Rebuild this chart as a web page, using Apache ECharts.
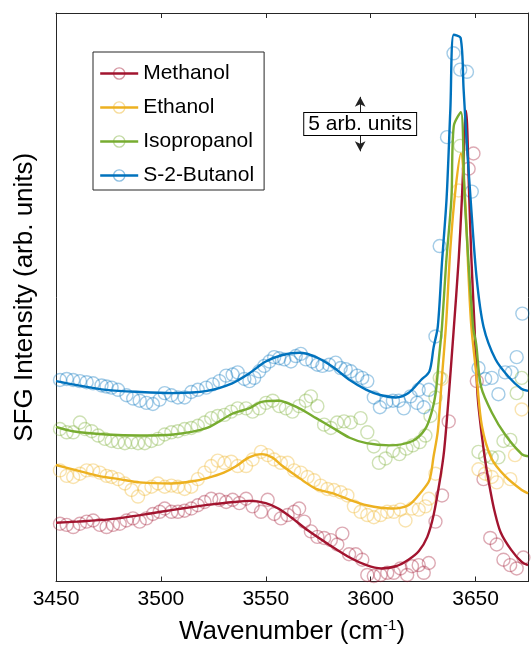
<!DOCTYPE html>
<html>
<head>
<meta charset="utf-8">
<script src="https://cdn.jsdelivr.net/npm/echarts@6/dist/echarts.min.js"></script>
<style>
html,body{margin:0;padding:0;background:#fff;}
#chart{width:531px;height:650px;}
</style>
</head>
<body>
<div id="chart"></div>
<script>
// ---------- data ----------
var seriesNames = ['Methanol', 'Ethanol', 'Isopropanol', 'S-2-Butanol'];
var xTicks = [3450, 3500, 3550, 3600, 3650];

// fitted curves [wavenumber, intensity (arb. units)]
var methanolFit = [[3450,5.4],[3460,5.5],[3475,5.7],[3490,6.1],[3500,6.4],[3510,6.7],[3525,7.1],[3535,7.3],[3542,7.4],[3550,7.2],[3556,6.7],[3562,5.9],[3570,4.7],[3580,3.4],[3590,2.2],[3598,1.5],[3605,1.2],[3612,1.4],[3618,2.0],[3623,2.8],[3627,4.1],[3630,6.1],[3633,9.3],[3635,12.0],[3637,16.5],[3639.5,22.9],[3642,29.7],[3643.5,35.2],[3645.5,43.2],[3647,35.2],[3648,29.7],[3649.5,23.4],[3651,17.0],[3653,13.4],[3655,10.6],[3657,8.4],[3659,6.5],[3662,4.5],[3667,2.9],[3672,1.8],[3675,1.5]];
var ethanolFit = [[3450,10.7],[3460,10.2],[3470,9.7],[3480,9.4],[3490,9.1],[3505,9.0],[3515,9.2],[3522,9.5],[3530,10.0],[3536,10.6],[3542,11.4],[3548,11.7],[3553,11.4],[3558,10.6],[3566,9.5],[3574,8.5],[3582,8.1],[3590,7.5],[3598,7.0],[3610,6.7],[3618,7.0],[3624,8.2],[3628,9.3],[3630,11.5],[3632,13.8],[3634,18.8],[3636,23.8],[3638,30.6],[3640.5,36.1],[3643,39.3],[3645,35.2],[3646.7,27.9],[3648,23.4],[3650.5,18.8],[3653,14.3],[3657.6,11.3],[3664,9.7],[3672,8.4],[3675,8.1]];
var isopropanolFit = [[3450,14.2],[3458,13.8],[3474,13.5],[3490,13.4],[3506,13.5],[3522,14.1],[3534,15.4],[3542,15.9],[3548,16.5],[3556,16.6],[3566,15.9],[3574,15.0],[3582,14.1],[3590,13.2],[3598,12.7],[3609,12.5],[3620,12.9],[3626,14.0],[3629,15.5],[3631,17.3],[3632.5,20.4],[3634,23.4],[3636,29.3],[3638.5,35.2],[3639.6,41.8],[3643,43.1],[3644.8,35.2],[3648.8,23.4],[3650.3,21.8],[3652.6,17.9],[3657.8,15.5],[3664.4,13.4],[3672,11.7],[3675,11.5]];
var butanolFit = [[3450,18.4],[3458,18.1],[3474,17.6],[3490,17.4],[3506,17.3],[3522,17.5],[3534,18.2],[3542,19.1],[3550,20.2],[3558,20.8],[3566,21.0],[3574,20.6],[3582,19.7],[3590,18.5],[3598,17.6],[3605,17.1],[3612,16.9],[3618,17.3],[3624,18.5],[3628,19.3],[3630,21.5],[3632,23.4],[3634,29.3],[3636.2,35.2],[3638,43.4],[3639.6,50.2],[3642.9,49.9],[3644.3,45.2],[3645.7,40.6],[3647.6,35.2],[3650.5,27.9],[3653.8,23.4],[3659.5,20.4],[3665.7,18.8],[3671.8,17.7],[3675,17.5]];

// measured points [wavenumber, intensity (arb. units)]
var methanolPts = [[3451.9,5.3],[3455.1,5.2],[3458.2,5.0],[3461.4,5.3],[3464.6,5.5],[3467.7,5.6],[3470.9,5.2],[3474.1,5.0],[3477.2,5.2],[3480.4,5.3],[3483.6,5.6],[3486.7,5.8],[3489.9,5.5],[3493.1,5.8],[3496.2,6.2],[3499.4,6.4],[3501.8,6.7],[3505.0,6.4],[3508.1,6.4],[3511.3,6.5],[3514.5,6.7],[3517.6,7.0],[3520.8,7.3],[3524.0,7.6],[3527.9,7.5],[3531.1,7.3],[3534.2,7.5],[3537.4,7.2],[3540.6,7.6],[3543.7,6.9],[3547.7,6.4],[3550.9,7.5],[3554.0,6.2],[3557.2,5.8],[3560.4,6.1],[3563.5,6.4],[3565.9,6.7],[3568.3,5.5],[3571.5,4.6],[3574.6,4.1],[3577.8,4.0],[3581.0,3.8],[3584.1,3.4],[3586.5,4.4],[3589.7,2.5],[3592.9,2.5],[3596.0,2.0],[3598.4,0.6],[3601.5,0.5],[3604.7,0.6],[3607.9,0.8],[3611.0,0.8],[3614.2,1.2],[3617.4,0.6],[3619.7,1.4],[3622.9,1.5],[3625.3,0.8],[3627.7,1.7],[3630.9,5.5],[3634.0,7.9],[3637.2,14.7],[3646.7,37.9],[3649.0,39.3],[3650.6,18.4],[3653.8,9.4],[3657.0,4.0],[3660.1,3.4],[3663.3,2.0],[3666.5,1.5],[3669.6,1.2],[3672.8,2.2]];
var ethanolPts = [[3451.9,10.2],[3455.1,9.7],[3458.2,9.6],[3461.4,9.9],[3464.6,10.2],[3467.7,10.2],[3470.9,10.0],[3474.1,9.7],[3476.5,9.6],[3479.6,9.4],[3482.8,9.0],[3486.0,8.4],[3489.1,7.8],[3492.3,8.5],[3495.5,8.7],[3498.6,9.0],[3501.8,8.7],[3505.0,8.8],[3508.1,8.7],[3511.3,8.5],[3514.5,8.7],[3517.6,9.4],[3520.8,10.0],[3524.0,10.6],[3527.1,11.1],[3530.3,10.9],[3533.5,11.0],[3536.6,10.6],[3540.6,10.6],[3543.7,11.2],[3547.7,11.9],[3550.9,11.6],[3554.0,11.2],[3557.2,10.9],[3560.4,10.9],[3563.5,10.2],[3566.7,10.0],[3569.9,9.6],[3573.0,9.3],[3576.2,8.8],[3579.4,8.5],[3582.5,8.4],[3585.7,8.2],[3588.9,7.9],[3592.0,6.9],[3595.2,6.4],[3598.4,6.1],[3601.5,5.9],[3604.7,6.1],[3607.9,6.4],[3611.0,6.4],[3614.2,6.6],[3616.6,5.6],[3619.7,6.7],[3622.9,6.6],[3626.1,6.9],[3627.7,7.6],[3630.9,9.9],[3633.9,18.6],[3641.9,35.9],[3651.4,10.3],[3654.6,9.9],[3657.7,9.6],[3660.1,9.1],[3666.6,9.4],[3668.8,11.6],[3672.0,15.8]];
var isopropanolPts = [[3451.9,14.0],[3455.1,13.7],[3458.2,13.7],[3461.4,14.6],[3463.8,14.0],[3467.0,13.8],[3470.1,13.4],[3473.3,13.1],[3476.5,12.9],[3479.6,12.8],[3482.8,12.7],[3486.0,12.8],[3489.1,12.7],[3492.3,12.7],[3495.5,12.9],[3498.6,13.1],[3501.8,13.5],[3505.0,13.7],[3508.1,13.8],[3511.3,14.0],[3514.5,14.1],[3517.6,14.3],[3520.8,14.6],[3524.0,15.0],[3527.1,15.2],[3530.3,15.3],[3533.5,15.6],[3536.6,15.9],[3540.6,15.9],[3543.7,15.6],[3546.9,15.9],[3550.1,16.4],[3553.3,16.6],[3556.4,16.1],[3559.6,15.9],[3562.7,15.6],[3565.9,16.1],[3569.1,16.6],[3571.5,17.0],[3574.6,16.1],[3577.8,14.4],[3581.0,14.1],[3584.0,14.6],[3587.3,14.7],[3590.5,14.6],[3595.2,15.0],[3598.4,13.7],[3601.5,12.4],[3603.9,10.9],[3607.1,11.3],[3610.6,12.0],[3613.7,11.7],[3617.0,12.2],[3620.1,12.5],[3623.4,12.8],[3626.1,13.4],[3628.5,15.2],[3630.9,16.9],[3632.9,18.7],[3642.7,40.0],[3651.4,11.9],[3654.6,11.5],[3657.7,11.4],[3660.9,11.4],[3663.3,12.9],[3666.6,13.0],[3669.6,17.3],[3672.0,18.7]];
var butanolPts = [[3451.9,18.5],[3455.1,18.6],[3458.2,18.5],[3461.4,18.4],[3464.6,18.3],[3467.7,18.2],[3471.7,18.0],[3474.1,17.9],[3476.5,17.8],[3479.6,17.6],[3483.6,17.1],[3486.8,16.8],[3489.9,16.6],[3493.1,16.4],[3496.2,16.3],[3499.4,16.7],[3501.8,17.3],[3505.0,17.1],[3508.1,16.9],[3511.3,16.9],[3514.5,17.4],[3517.6,17.6],[3521.6,17.8],[3524.7,18.1],[3527.9,18.4],[3531.1,18.9],[3534.2,19.0],[3536.6,19.2],[3539.8,18.6],[3542.2,18.4],[3544.5,18.7],[3546.9,19.3],[3549.3,19.8],[3551.7,20.2],[3554.0,20.6],[3556.4,20.5],[3558.8,20.4],[3562.0,20.2],[3564.3,20.7],[3566.7,20.9],[3569.1,20.4],[3572.2,20.2],[3574.6,19.9],[3577.0,19.8],[3580.2,19.9],[3583.3,20.1],[3585.7,19.6],[3588.1,19.5],[3590.5,19.3],[3593.6,18.9],[3596.0,18.7],[3598.4,18.4],[3601.5,16.9],[3604.4,16.0],[3607.5,16.5],[3610.6,16.6],[3613.4,16.6],[3615.8,15.9],[3619.0,17.0],[3622.1,16.4],[3622.9,17.6],[3625.3,16.0],[3627.7,17.6],[3630.9,22.5],[3632.9,30.8],[3636.4,40.8],[3639.5,48.5],[3642.7,47.0],[3645.9,46.8],[3648.2,35.8],[3651.4,19.6],[3654.6,18.6],[3657.7,18.7],[3660.9,17.2],[3664.1,19.2],[3667.2,19.2],[3669.6,20.6],[3672.3,24.6]];

// scale-bar annotation
var scaleBarLabel = '5 arb. units';
var scaleBarWn = 3595;
var scaleBarFrom = 39.5;
var scaleBarLength = 5;

// ---------- styling ----------
var lineColors = ['#A2142F', '#EDB120', '#77AC30', '#0072BD'];
var pointColors = ['rgba(162,20,47,0.45)', 'rgba(237,177,32,0.45)', 'rgba(119,172,48,0.45)', 'rgba(0,114,189,0.45)'];
var fits = [methanolFit, ethanolFit, isopropanolFit, butanolFit];
var pts = [methanolPts, ethanolPts, isopropanolPts, butanolPts];
var FONT = '"Liberation Sans", Arial, Helvetica, sans-serif';
var AX = '#262626';

var series = [];
for (var i = 0; i < 4; i++) {
  series.push({
    name: seriesNames[i] + ' data',
    type: 'scatter',
    data: pts[i],
    symbol: 'circle',
    symbolSize: 13,
    itemStyle: { color: 'rgba(255,255,255,0)', borderColor: pointColors[i], borderWidth: 1.4 },
    z: 2,
    silent: true
  });
}
for (var j = 0; j < 4; j++) {
  series.push({
    name: seriesNames[j],
    type: 'line',
    data: fits[j],
    smooth: 0.3,
    showSymbol: false,
    symbol: 'circle',
    symbolSize: 13,
    lineStyle: { color: lineColors[j], width: 2.4 },
    itemStyle: { color: 'rgba(255,255,255,0)', borderColor: pointColors[j], borderWidth: 1.4 },
    z: 5,
    silent: true
  });
}
// scale bar (arrow + labelled box)
series.push({
  name: 'scalebar',
  type: 'line',
  data: [],
  silent: true,
  markLine: {
    silent: true,
    symbol: ['arrow', 'arrow'],
    symbolSize: [8, 10],
    label: { show: false },
    lineStyle: { color: '#222', width: 1, type: 'solid' },
    data: [[{ coord: [scaleBarWn, scaleBarFrom] }, { coord: [scaleBarWn, scaleBarFrom + scaleBarLength] }]]
  },
  markPoint: {
    silent: true,
    symbol: 'rect',
    symbolSize: 1,
    itemStyle: { color: 'rgba(0,0,0,0)' },
    label: {
      show: true, position: 'inside', formatter: scaleBarLabel,
      fontFamily: FONT, fontSize: 21, color: '#000',
      backgroundColor: '#fff', borderColor: '#000', borderWidth: 1,
      padding: [1, 4, 0, 4], lineHeight: 21
    },
    data: [{ coord: [scaleBarWn, scaleBarFrom + scaleBarLength / 2] }]
  },
  z: 6
});

var chart = echarts.init(document.getElementById('chart'), null, { renderer: 'canvas' });
chart.setOption({
  animation: false,
  backgroundColor: '#fff',
  textStyle: { fontFamily: FONT },
  grid: { left: 56, right: 2, top: 13, bottom: 63, containLabel: false },
  legend: {
    orient: 'vertical',
    left: 93, top: 52,
    data: seriesNames.map(function (n, k) {
      return { name: n,
        itemStyle: { color: 'rgba(255,255,255,0)', borderColor: pointColors[k], borderWidth: 1.4 },
        lineStyle: { color: lineColors[k], width: 2.4 } };
    }),
    itemWidth: 38, itemHeight: 14, itemGap: 13,
    padding: [11, 10, 4, 6],
    backgroundColor: '#fff', borderColor: AX, borderWidth: 1,
    textStyle: { fontFamily: FONT, fontSize: 21, color: '#000' }
  },
  xAxis: [{
    type: 'value', min: xTicks[0], max: 3675, interval: 50, position: 'bottom',
    axisLine: { show: true, onZero: false, lineStyle: { color: AX, width: 1 } },
    axisTick: { show: true, inside: true, length: 5, lineStyle: { color: AX } },
    axisLabel: { show: true, margin: 7, fontFamily: FONT, fontSize: 21, color: '#000',
      formatter: function (v) { return xTicks.indexOf(v) >= 0 ? String(v) : ''; } },
    splitLine: { show: false },
    name: 'Wavenumber (cm{sup|-1})', nameLocation: 'middle', nameGap: 37,
    nameTextStyle: { fontFamily: FONT, fontSize: 26, color: '#000',
      rich: { sup: { fontFamily: FONT, fontSize: 15, color: '#000', padding: [0, 0, 12, 0] } } }
  }, {
    type: 'value', min: xTicks[0], max: 3675, interval: 50, position: 'top',
    axisLine: { show: true, onZero: false, lineStyle: { color: AX, width: 1 } },
    axisTick: { show: true, inside: true, length: 5, lineStyle: { color: AX } },
    axisLabel: { show: false }, splitLine: { show: false }
  }],
  yAxis: [{
    type: 'value', min: 0, max: 52.2, position: 'left',
    axisLine: { show: true, onZero: false, lineStyle: { color: AX, width: 1 } },
    axisTick: { show: false }, axisLabel: { show: false }, splitLine: { show: false },
    name: 'SFG Intensity (arb. units)', nameLocation: 'middle', nameGap: 18,
    nameTextStyle: { fontFamily: FONT, fontSize: 26, color: '#000' }
  }, {
    type: 'value', min: 0, max: 52.2, position: 'right',
    axisLine: { show: true, onZero: false, lineStyle: { color: AX, width: 1 } },
    axisTick: { show: false }, axisLabel: { show: false }, splitLine: { show: false }
  }],
  series: series
});
</script>
</body>
</html>
